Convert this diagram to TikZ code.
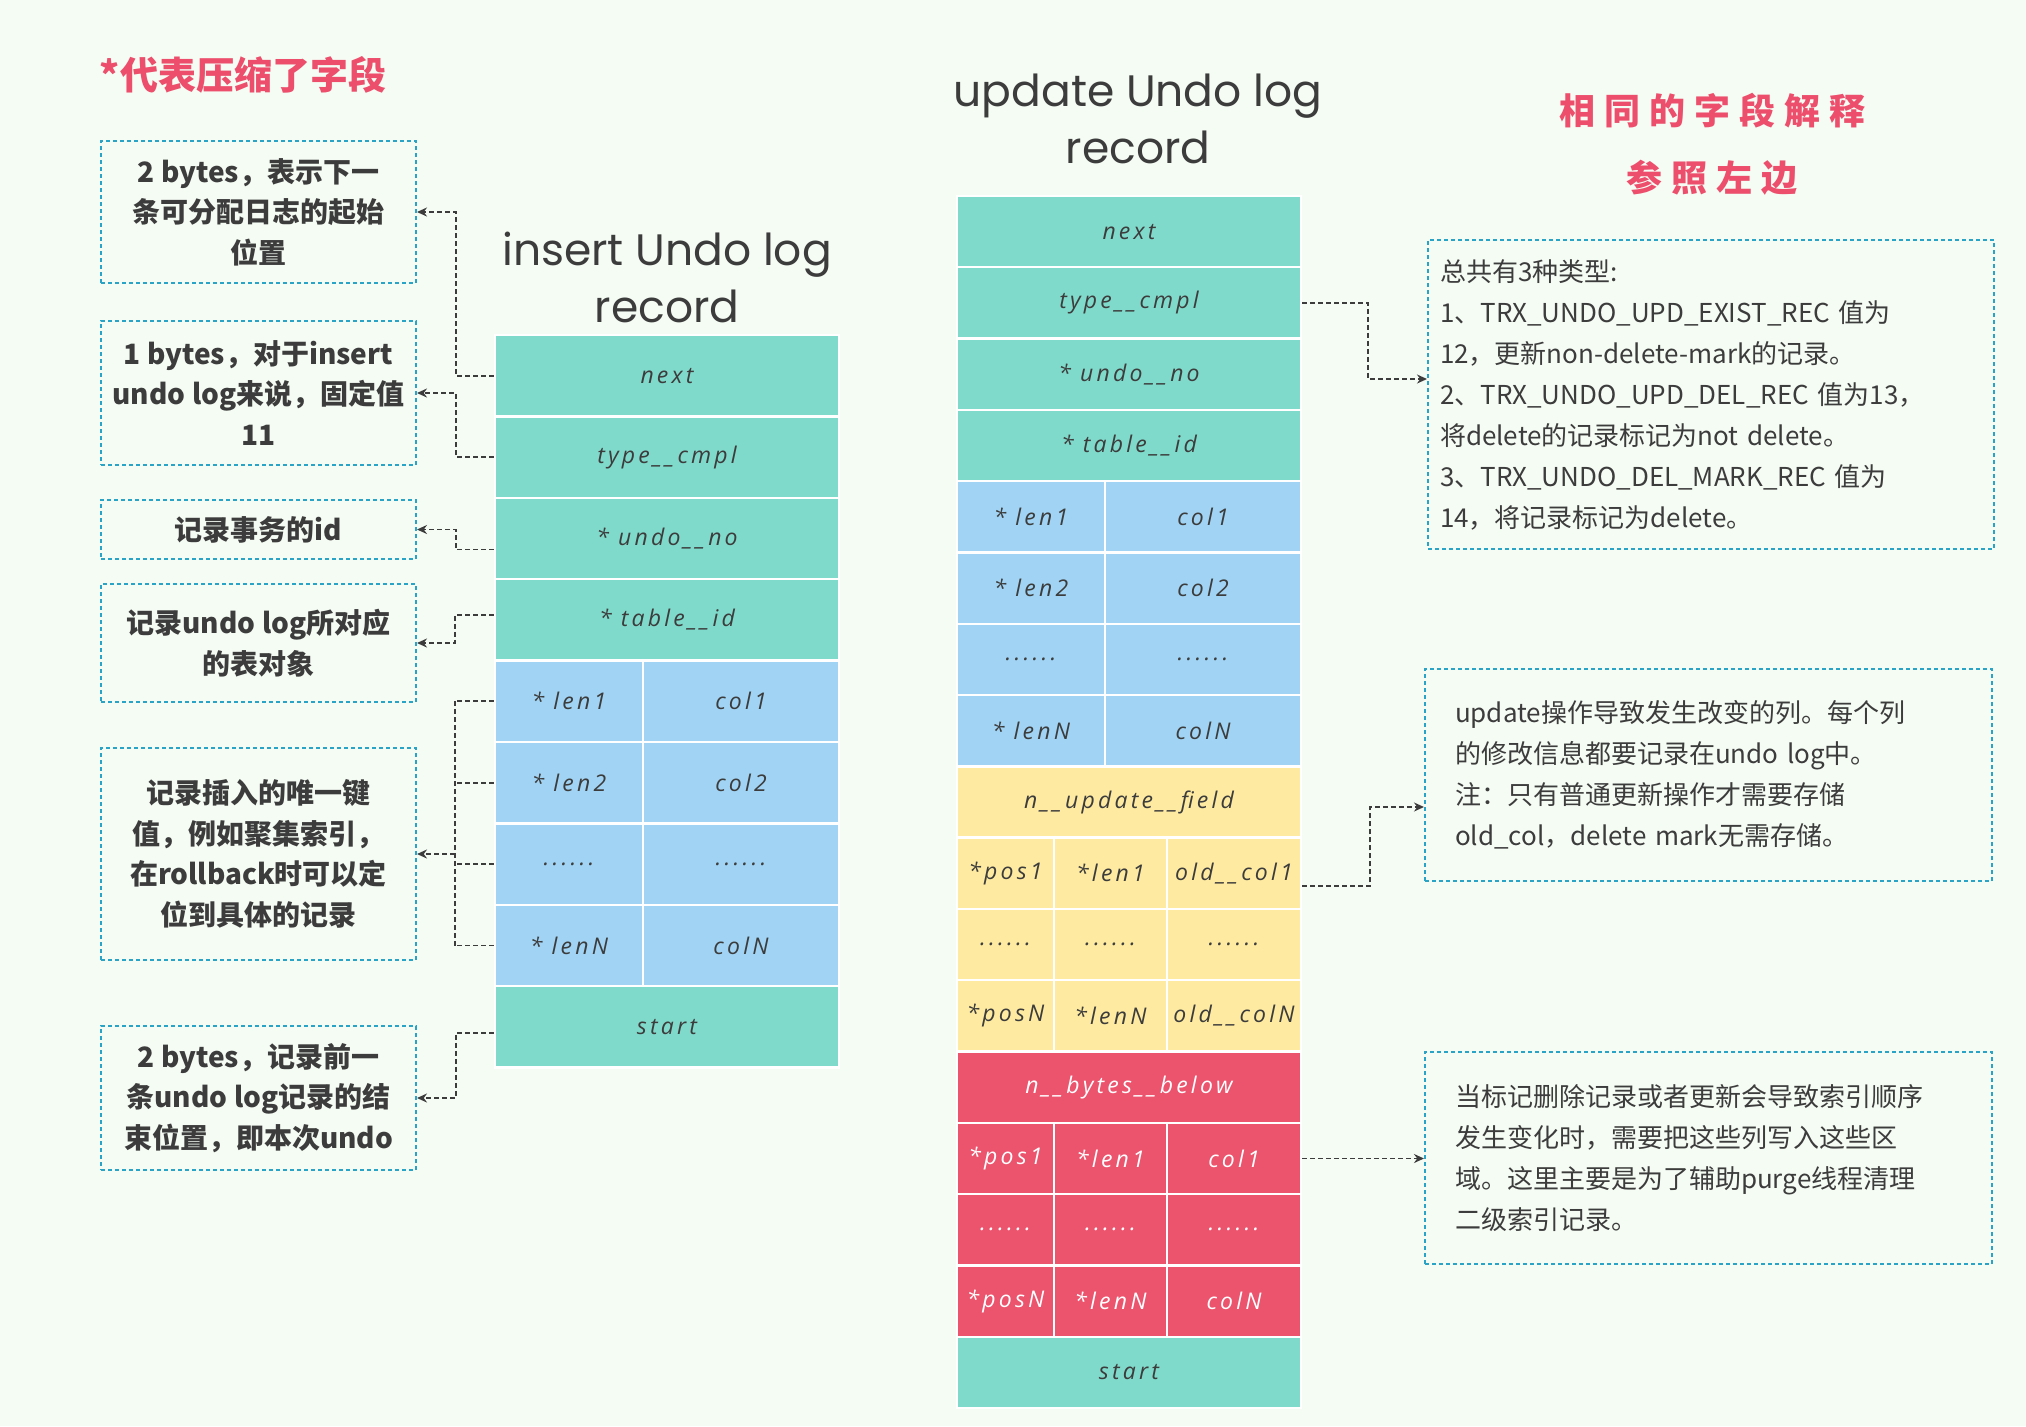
\documentclass[tikz,border=0pt]{standalone}
\usepackage{fontspec}
\usetikzlibrary{positioning, arrows.meta}
\newfontfamily\cjk{Noto Sans CJK SC}
\newfontfamily\cjkwide[LetterSpace=25]{Noto Sans CJK SC}
\newfontfamily\cellfont[LetterSpace=14]{Open Sans}
\newfontfamily\handfont{Poppins}

\definecolor{bgcol}{HTML}{F5FCF4}
\definecolor{tealc}{HTML}{80DACB}
\definecolor{bluec}{HTML}{A1D4F4}
\definecolor{yellowc}{HTML}{FEEBA1}
\definecolor{redc}{HTML}{EC536D}
\definecolor{framec}{HTML}{2AA4C6}
\definecolor{inkc}{HTML}{3C3C3C}
\definecolor{pinkc}{HTML}{EC4E6C}

\tikzset{
  cell/.style={draw=white, line width=1.2pt, inner sep=0pt, text=inkc,
    font=\cellfont\itshape\fontsize{11.5}{13}\selectfont},
  irow/.style={cell, minimum height=40.7pt},
  urow/.style={cell, minimum height=35.65pt},
  wide/.style={minimum width=172pt},
  colA/.style={minimum width=74pt},
  colB/.style={minimum width=98pt},
  colP/.style={minimum width=48.5pt},
  colL/.style={minimum width=56.5pt},
  colO/.style={minimum width=67pt},
  lbox/.style={draw=framec, line width=1pt, dash pattern=on 2pt off 1.5pt,
    minimum width=157.5pt, align=center, text=inkc,
    font=\cjk\bfseries\fontsize{14}{20.25}\selectfont},
  rbox/.style={draw=framec, line width=1pt, dash pattern=on 2pt off 1.5pt,
    minimum width=283pt, align=left, text=inkc,
    font=\cjk\fontsize{13}{20.5}\selectfont},
  htitle/.style={align=center, text=inkc, font=\handfont\fontsize{22}{28.5}\selectfont},
  dline/.style={draw=inkc, line width=0.9pt, dash pattern=on 2.5pt off 1.5pt},
  conn/.style={dline, -{Stealth[length=5pt, width=4.5pt]}}
}

\begin{document}
\begin{tikzpicture}[x=0.5pt, y=-0.5pt, on grid, node distance=40.7pt]
\fill[bgcol] (0,0) rectangle (2026,1426);
\useasboundingbox (0,0) rectangle (2026,1426);

% titles
\node[text=pinkc, font=\cjk\bfseries\fontsize{19}{22}\selectfont] (tnote) at (243,75) {*代表压缩了字段};
\node[htitle] (tins) at (667,277) {insert Undo log\\record};
\node[htitle] (tupd) at (1138,119) {update Undo log\\record};
\node[text=pinkc, font=\cjkwide\bfseries\fontsize{18}{22}\selectfont] (tsame) at (1712,111) {相同的字段解释};
\node[text=pinkc, font=\cjkwide\bfseries\fontsize{18}{22}\selectfont] (tref) at (1712,178) {参照左边};

% insert undo log record
\node[irow, wide, fill=tealc] (inext) at (667,375.7) {next};
\node[irow, wide, fill=tealc, below=of inext] (itype) {type\_\_cmpl};
\node[irow, wide, fill=tealc, below=of itype] (iundo) {* undo\_\_no};
\node[irow, wide, fill=tealc, below=of iundo] (itable) {* table\_\_id};
\node[irow, colA, fill=bluec, below left=40.7pt and 49pt of itable] (ilenA) {* len1};
\node[irow, colB, fill=bluec, right=86pt of ilenA] (icolA) {col1};
\node[irow, colA, fill=bluec, below=of ilenA] (ilenB) {* len2};
\node[irow, colB, fill=bluec, below=of icolA] (icolB) {col2};
\node[irow, colA, fill=bluec, below=of ilenB] (idotA) {......};
\node[irow, colB, fill=bluec, below=of icolB] (idotB) {......};
\node[irow, colA, fill=bluec, below=of idotA] (ilenN) {* lenN};
\node[irow, colB, fill=bluec, below=of idotB] (icolN) {colN};
\node[irow, wide, fill=tealc, below right=40.7pt and 49pt of ilenN] (istart) {start};

% update undo log record
\begin{scope}[node distance=35.65pt]
\node[urow, wide, fill=tealc] (unext) at (1129,231.6) {next};
\node[urow, wide, fill=tealc, below=of unext] (utype) {type\_\_cmpl};
\node[urow, wide, fill=tealc, below=of utype] (uundo) {* undo\_\_no};
\node[urow, wide, fill=tealc, below=of uundo] (utable) {* table\_\_id};
\node[urow, colA, fill=bluec, below left=35.65pt and 49pt of utable] (ulenA) {* len1};
\node[urow, colB, fill=bluec, right=86pt of ulenA] (ucolA) {col1};
\node[urow, colA, fill=bluec, below=of ulenA] (ulenB) {* len2};
\node[urow, colB, fill=bluec, below=of ucolA] (ucolB) {col2};
\node[urow, colA, fill=bluec, below=of ulenB] (udotA) {......};
\node[urow, colB, fill=bluec, below=of ucolB] (udotB) {......};
\node[urow, colA, fill=bluec, below=of udotA] (ulenN) {* lenN};
\node[urow, colB, fill=bluec, below=of udotB] (ucolN) {colN};
\node[urow, wide, fill=yellowc, below right=35.65pt and 49pt of ulenN] (ufield) {n\_\_update\_\_field};
\node[urow, colP, fill=yellowc, below left=35.65pt and 61.75pt of ufield] (upos1) {*pos1};
\node[urow, colL, fill=yellowc, right=52.5pt of upos1] (ulen1) {*len1};
\node[urow, colO, fill=yellowc, right=61.75pt of ulen1] (uold1) {old\_\_col1};
\node[urow, colP, fill=yellowc, below=of upos1] (upDot) {......};
\node[urow, colL, fill=yellowc, below=of ulen1] (ulDot) {......};
\node[urow, colO, fill=yellowc, below=of uold1] (uoDot) {......};
\node[urow, colP, fill=yellowc, below=of upDot] (uposN) {*posN};
\node[urow, colL, fill=yellowc, below=of ulDot] (ulenM) {*lenN};
\node[urow, colO, fill=yellowc, below=of uoDot] (uoldN) {old\_\_colN};
\node[urow, wide, fill=redc, text=white, below right=35.65pt and 61.75pt of uposN] (ubytes) {n\_\_bytes\_\_below};
\node[urow, colP, fill=redc, text=white, below left=35.65pt and 61.75pt of ubytes] (rpos1) {*pos1};
\node[urow, colL, fill=redc, text=white, right=52.5pt of rpos1] (rlen1) {*len1};
\node[urow, colO, fill=redc, text=white, right=61.75pt of rlen1] (rcol1) {col1};
\node[urow, colP, fill=redc, text=white, below=of rpos1] (rpDot) {......};
\node[urow, colL, fill=redc, text=white, below=of rlen1] (rlDot) {......};
\node[urow, colO, fill=redc, text=white, below=of rcol1] (rcDot) {......};
\node[urow, colP, fill=redc, text=white, below=of rpDot] (rposN) {*posN};
\node[urow, colL, fill=redc, text=white, below=of rlDot] (rlenN) {*lenN};
\node[urow, colO, fill=redc, text=white, below=of rcDot] (rcolN) {colN};
\node[urow, wide, fill=tealc, below right=35.65pt and 61.75pt of rposN] (ustart) {start};
\end{scope}

% left notes
\node[lbox, minimum height=71pt] (b1) at (258.5,212) {2 bytes，表示下一\\条可分配日志的起始\\位置};
\node[lbox, minimum height=72pt] (b2) at (258.5,393) {1 bytes，对于insert\\undo log来说，固定值\\11};
\node[lbox, minimum height=29.5pt] (b3) at (258.5,529.5) {记录事务的id};
\node[lbox, minimum height=59pt] (b4) at (258.5,643) {记录undo log所对应\\的表对象};
\node[lbox, minimum height=106pt] (b5) at (258.5,854) {记录插入的唯一键\\值，例如聚集索引，\\在rollback时可以定\\位到具体的记录};
\node[lbox, minimum height=72pt] (b6) at (258.5,1098) {2 bytes，记录前一\\条undo log记录的结\\束位置，即本次undo};

% right notes
\node[rbox, minimum height=154.5pt, inner xsep=6pt, text width=271pt] (r1) at (1711,394.5)
  {总共有3种类型:\\1、TRX\_UNDO\_UPD\_EXIST\_REC 值为\\12，更新non-delete-mark的记录。\\2、TRX\_UNDO\_UPD\_DEL\_REC 值为13，\\将delete的记录标记为not delete。\\3、TRX\_UNDO\_DEL\_MARK\_REC 值为\\14，将记录标记为delete。};
\node[rbox, minimum height=106pt, inner xsep=15pt, text width=253.5pt] (r2) at (1708.5,775)
  {update操作导致发生改变的列。每个列\\的修改信息都要记录在undo log中。\\注：只有普通更新操作才需要存储\\old\_col，delete mark无需存储。};
\node[rbox, minimum height=106pt, inner xsep=15pt, text width=253.5pt] (r3) at (1708.5,1158)
  {当标记删除记录或者更新会导致索引顺序\\发生变化时，需要把这些列写入这些区\\域。这里主要是为了辅助purge线程清理\\二级索引记录。};

% insert connectors
\draw[conn] (inext.west) -- ++(-38,0) |- (b1.east);
\draw[conn] (itype.west) -- ++(-38,0) |- (b2.east);
\draw[conn] ([yshift=-5.5pt]iundo.west) -- ++(-38,0) |- (b3.east);
\draw[conn] ([yshift=2.5pt]itable.west) -- ++(-39,0) |- (b4.east);
\foreach \r in {ilenA, ilenB, idotA, ilenN}
  \draw[dline] (\r.west) -- ++(-39,0);
\draw[dline] ([xshift=-19.5pt]ilenA.west) -- ([xshift=-19.5pt]ilenN.west);
\draw[conn] ([xshift=-19.5pt]ilenA.west |- b5.east) -- (b5.east);
\draw[conn] ([yshift=-3pt]istart.west) -- ++(-38,0) |- (b6.east);

% update connectors
\draw[conn] (utype.east) -- ++(66,0) |- ([yshift=7.75pt]r1.west);
\draw[conn] ([yshift=-6.5pt]uold1.east) -- ++(68,0) |- ([yshift=-16pt]r2.west);
\draw[conn] (rcol1.east) -- (rcol1.east -| r3.west);
\end{tikzpicture}
\end{document}
